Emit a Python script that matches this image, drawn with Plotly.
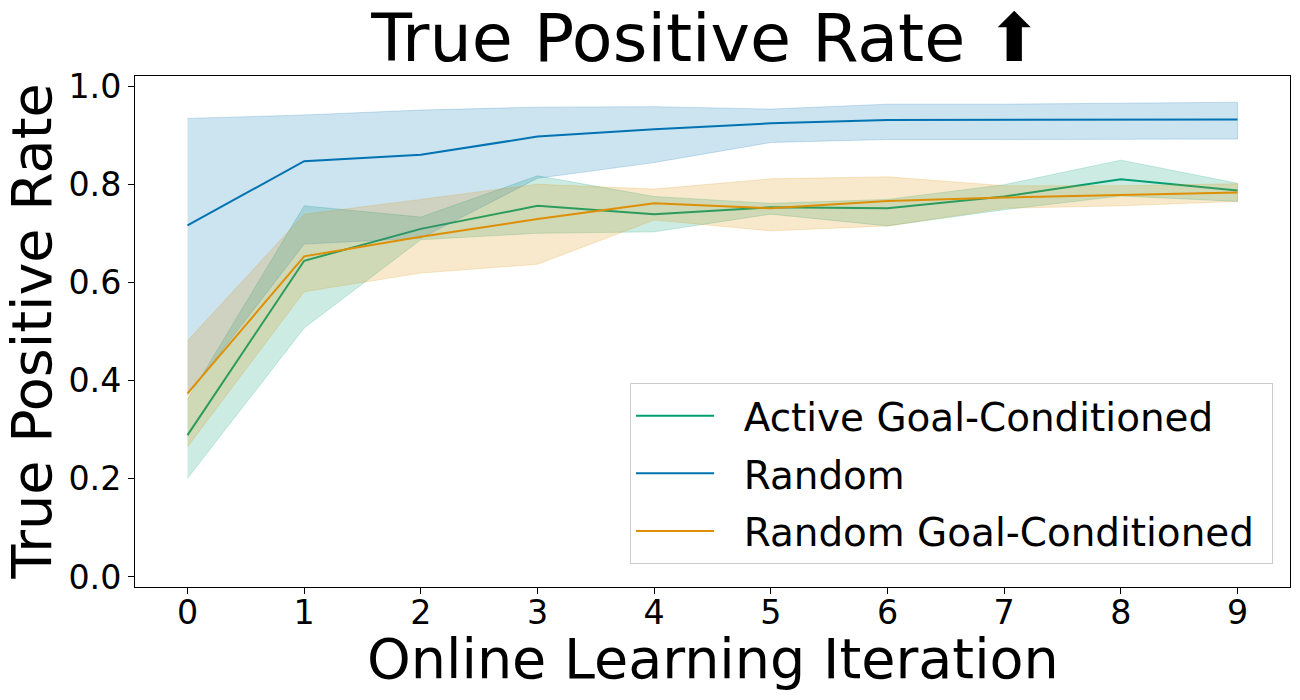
import plotly.graph_objects as go

# values
iterations = [0, 1, 2, 3, 4, 5, 6, 7, 8, 9]

active_gc_mean = [0.289, 0.644, 0.709, 0.756, 0.739, 0.753, 0.751, 0.775, 0.810, 0.787]
active_gc_upper = [0.362, 0.756, 0.733, 0.817, 0.775, 0.761, 0.769, 0.799, 0.849, 0.802]
active_gc_lower = [0.201, 0.507, 0.687, 0.700, 0.703, 0.739, 0.715, 0.748, 0.776, 0.765]

random_mean = [0.716, 0.847, 0.860, 0.897, 0.912, 0.924, 0.931, 0.931, 0.932, 0.932]
random_upper = [0.934, 0.941, 0.951, 0.957, 0.958, 0.953, 0.963, 0.963, 0.965, 0.967]
random_lower = [0.370, 0.678, 0.690, 0.812, 0.844, 0.885, 0.891, 0.891, 0.891, 0.892]

random_gc_mean = [0.374, 0.653, 0.693, 0.729, 0.761, 0.751, 0.766, 0.773, 0.778, 0.783]
random_gc_upper = [0.481, 0.739, 0.769, 0.800, 0.790, 0.811, 0.815, 0.797, 0.797, 0.801]
random_gc_lower = [0.265, 0.581, 0.619, 0.637, 0.727, 0.705, 0.715, 0.751, 0.756, 0.765]

series = [
    ('Active Goal-Conditioned', active_gc_mean, active_gc_upper, active_gc_lower, (2, 158, 115)),
    ('Random', random_mean, random_upper, random_lower, (1, 115, 178)),
    ('Random Goal-Conditioned', random_gc_mean, random_gc_upper, random_gc_lower, (222, 143, 5)),
]

FONT = 'DejaVu Sans'
NB = '\u00a0'

fig = go.Figure()

for name, mean, upper, lower, rgb in series:
    r, g, b = rgb
    # shaded band (upper edge then lower edge backwards)
    fig.add_trace(go.Scatter(
        x=iterations + iterations[::-1],
        y=upper + lower[::-1],
        fill='toself',
        fillcolor='rgba(%d,%d,%d,0.2)' % (r, g, b),
        line=dict(color='rgba(%d,%d,%d,0.2)' % (r, g, b), width=1),
        mode='lines',
        hoverinfo='skip',
        showlegend=False,
        legendgroup=name,
    ))
    fig.add_trace(go.Scatter(
        x=iterations,
        y=mean,
        mode='lines',
        name=NB * 2 + name + NB,
        legendgroup=name,
        line=dict(color='rgb(%d,%d,%d)' % (r, g, b), width=2),
    ))

# page body has an 8px margin, so the figure is 8px smaller than the window
fig.update_layout(
    width=1292, height=692,
    margin=dict(l=127, r=10, t=68, b=113),
    paper_bgcolor='white',
    plot_bgcolor='white',
    font=dict(family=FONT, color='black'),
    title=dict(
        text='True Positive Rate \u2b06',
        xref='paper', x=0.495, xanchor='center',
        yref='container', y=0.957, yanchor='middle',
        font=dict(size=66.7, family=FONT, color='black'),
    ),
    xaxis=dict(
        automargin=False,
        range=[-0.45, 9.45],
        tickmode='array', tickvals=iterations,
        tickfont=dict(size=33.3),
        ticklabelstandoff=-10,
        ticks='outside', ticklen=6, tickwidth=1, tickcolor='black',
        showline=True, linecolor='black', linewidth=1, mirror=True,
        showgrid=False, zeroline=False,
    ),
    yaxis=dict(
        automargin=False,
        range=[-0.0204, 1.0204],
        tickmode='array', tickvals=[0, 0.2, 0.4, 0.6, 0.8, 1.0],
        ticktext=['0.0', '0.2', '0.4', '0.6', '0.8', '1.0'],
        tickfont=dict(size=33.3),
        ticks='outside', ticklen=6, tickwidth=1, tickcolor='black',
        showline=True, linecolor='black', linewidth=1, mirror=True,
        showgrid=False, zeroline=False,
    ),
    legend=dict(
        x=0.9853, xanchor='right',
        y=0.045, yanchor='bottom',
        bgcolor='rgba(255,255,255,0.8)',
        bordercolor='#cccccc', borderwidth=1,
        font=dict(size=38.9, family=FONT, color='black'),
        tracegroupgap=4,
        itemwidth=78,
    ),
)

# axis titles as annotations so they can sit where the reference has them
fig.add_annotation(
    text='Online Learning Iteration',
    xref='paper', x=0.5, xanchor='center',
    yref='paper', y=-0.072, yanchor='top',
    showarrow=False,
    font=dict(size=55.6, family=FONT, color='black'),
)
fig.add_annotation(
    text='True Positive Rate',
    textangle=-90,
    xref='paper', x=-0.090, xanchor='center',
    yref='paper', y=0.5, yanchor='middle',
    showarrow=False,
    font=dict(size=55.6, family=FONT, color='black'),
)

fig.write_html('out.html')
